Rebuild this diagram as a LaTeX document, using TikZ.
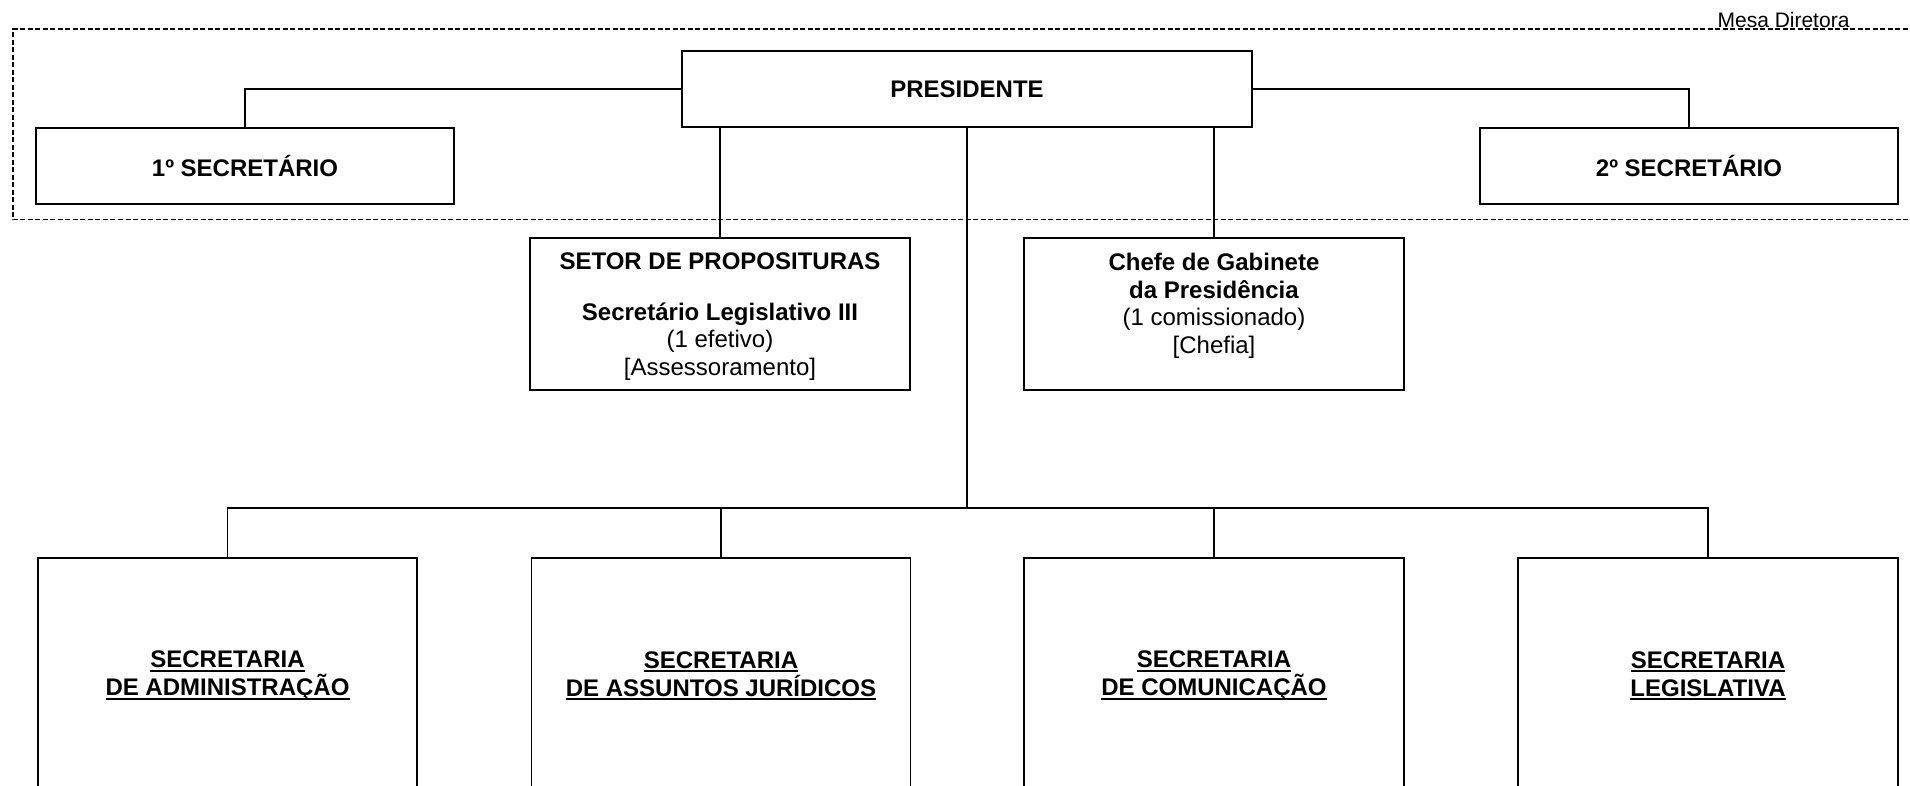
\documentclass[tikz,border=0pt]{standalone}
\usepackage{fontspec}
\setmainfont{Liberation Sans}
\newcommand\myul[1]{\setbox0\hbox{#1}\rlap{\rule[-4pt]{\wd0}{2pt}}\box0}
\begin{document}
\begin{tikzpicture}[x=1pt,y=-1pt,
  box/.style={draw, line width=1.8pt, inner sep=0pt, font=\bfseries\fontsize{24}{27.5}\selectfont},
  txt/.style={inner sep=0pt, align=center, font=\fontsize{24}{27.6}\selectfont},
  conn/.style={line width=1.7pt},
  mesa/.style={dash pattern=on 5pt off 2.5pt, line width=1.8pt}]
\clip (0,0) rectangle (1910,785);
\fill[white] (0,0) rectangle (1910,785);
% Mesa Diretora frame
\draw[mesa] (1915,29) -- (13,29) -- (13,219.5) -- (1915,219.5);
\node[inner sep=0pt, anchor=base, font=\fontsize{21}{25}\selectfont] (mesatxt) at (1783.5,27) {Mesa Diretora};
% top boxes
\node[box, minimum width=570pt, minimum height=76pt] (pres) at (967,89) {PRESIDENTE};
\node[box, minimum width=418pt, minimum height=76pt] (sec1) at (245,166) {1º SECRETÁRIO};
\node[box, minimum width=418pt, minimum height=76pt] (sec2) at (1689,166) {2º SECRETÁRIO};
% middle boxes
\node[box, minimum width=380pt, minimum height=152.5pt] (setor) at (720,314) {};
\node[box, minimum width=380pt, minimum height=152.5pt] (chefe) at (1214,314) {};
\node[txt, anchor=north] (setortxt) at (720,253) {\textbf{SETOR DE PROPOSITURAS}\\[22.6pt]\textbf{Secretário Legislativo III}\\(1 efetivo)\\{[Assessoramento]}};
\node[txt, anchor=north] (chefetxt) at (1214,253) {\textbf{Chefe de Gabinete}\\\textbf{da Presidência}\\(1 comissionado)\\{[Chefia]}};
% bottom boxes
\node[box, anchor=north, minimum width=379pt, minimum height=300pt] (adm) at (227.5,557) {};
\node[box, anchor=north, minimum width=379pt, minimum height=300pt] (jur) at (721,557) {};
\node[box, anchor=north, minimum width=380pt, minimum height=300pt] (com) at (1214,557) {};
\node[box, anchor=north, minimum width=380pt, minimum height=300pt] (leg) at (1708,557) {};
\node[txt, font=\bfseries\fontsize{24}{28}\selectfont] (admtxt) at (227.5,676) {\myul{SECRETARIA}\\\myul{DE ADMINISTRAÇÃO}};
\node[txt, font=\bfseries\fontsize{24}{28}\selectfont] (jurtxt) at (721,676) {\myul{SECRETARIA}\\\myul{DE ASSUNTOS JURÍDICOS}};
\node[txt, font=\bfseries\fontsize{24}{28}\selectfont] (comtxt) at (1214,676) {\myul{SECRETARIA}\\\myul{DE COMUNICAÇÃO}};
\node[txt, font=\bfseries\fontsize{24}{28}\selectfont] (legtxt) at (1708,676) {\myul{SECRETARIA}\\\myul{LEGISLATIVA}};
% connectors
\coordinate (bus) at (967,508);
\draw[conn] (pres.west) -| (sec1.north);
\draw[conn] (pres.east) -| (sec2.north);
\draw[conn] (pres.south -| setor.north) -- (setor.north);
\draw[conn] (pres.south -| chefe.north) -- (chefe.north);
\draw[conn] (pres.south) -- (bus);
\draw[conn] (adm.north) -- (adm.north |- bus) -- (leg.north |- bus) -- (leg.north);
\draw[conn] (jur.north) -- (jur.north |- bus);
\draw[conn] (com.north) -- (com.north |- bus);
\end{tikzpicture}
\end{document}
